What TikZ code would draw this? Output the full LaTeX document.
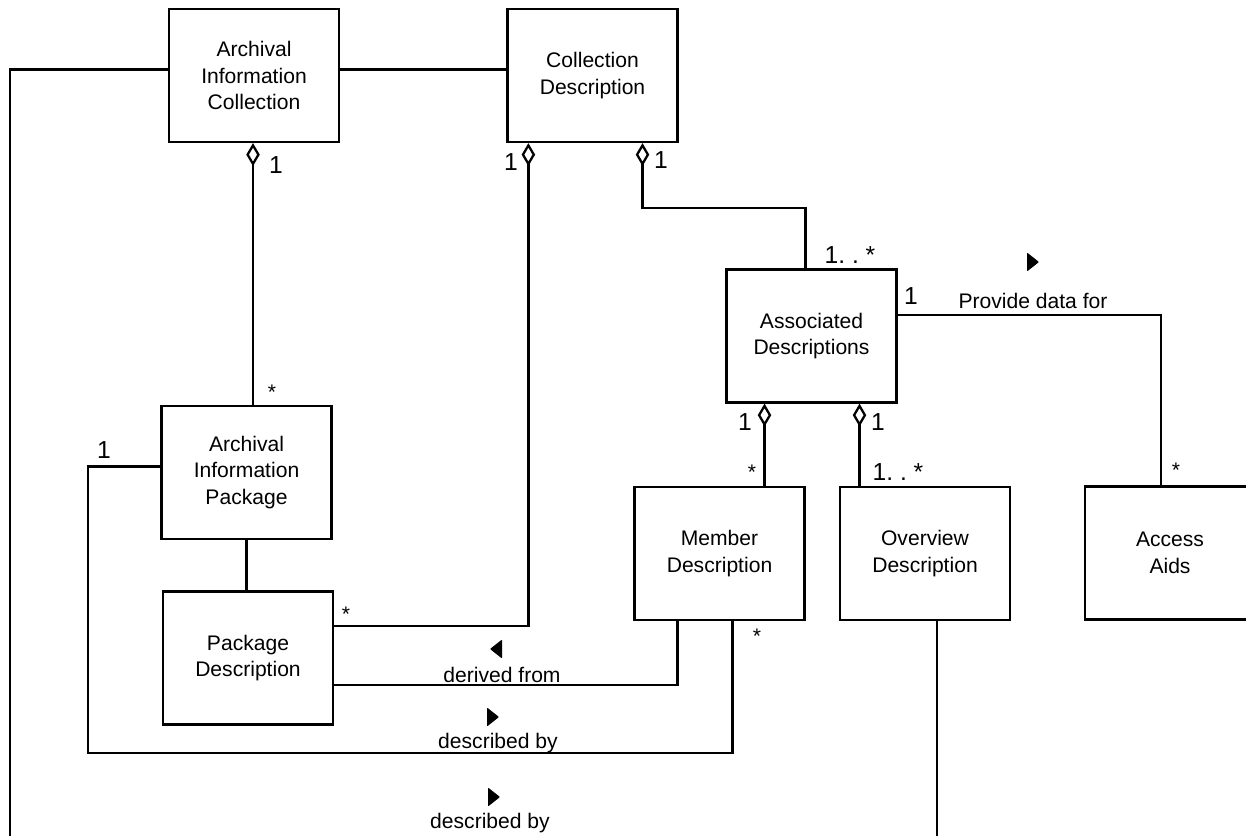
\documentclass[tikz,border=0pt]{standalone}
\usepackage{fontspec}
\setmainfont{Liberation Sans}
\usetikzlibrary{arrows.meta,calc}

\tikzset{
  cls/.style={draw, line width=1.3pt, minimum width=3.4cm, minimum height=2.66cm,
    align=center, inner sep=2pt, font=\fontsize{12}{15}\selectfont},
  assoc/.style={line width=1.3pt},
  agg/.style={assoc, {Diamond[open, length=0.46cm, width=0.27cm, line width=1.3pt]}-},
  mult/.style={inner sep=0pt, font=\fontsize{14}{16}\selectfont},
  star/.style={inner sep=0pt, font=\fontsize{12}{14}\selectfont},
  role/.style={inner sep=0pt, anchor=base, font=\fontsize{12}{14}\selectfont},
  rtri/.pic={\fill[rounded corners=0.5pt] (-6,-9.5) -- (6,0) -- (-6,9.5) -- cycle;},
  ltri/.pic={\fill[rounded corners=0.5pt] (6,-9.5) -- (-6,0) -- (6,9.5) -- cycle;},
}

\begin{document}
\begin{tikzpicture}[x=0.02cm, y=-0.02cm]
	\clip (0,0) rectangle (1246,835);

	% classes
	\node[cls] (aic) at (254,75.5) {Archival\\Information\\Collection};
	\node[cls] (cd) at (592.5,75.5) {Collection\\Description};
	\node[cls] (ad) at (811.5,336) {Associated\\Descriptions};
	\node[cls] (aip) at (246.5,472.5) {Archival\\Information\\Package};
	\node[cls] (pd) at (248,658) {Package\\Description};
	\node[cls] (md) at (719.5,553.5) {Member\\Description};
	\node[cls] (od) at (925,553.5) {Overview\\Description};
	\node[cls] (aa) at (1170,553) {Access\\Aids};

	% bend points and aggregation ends
	\coordinate (farleft) at (10,850);
	\coordinate (mdbend) at (88,753);
	\coordinate (aicagg) at ($(aic.south)+(-1,0)$);
	\coordinate (cdagg) at ($(cd.south west)+(22,0)$);
	\coordinate (cdagg2) at ($(cd.south)+(50,0)$);
	\coordinate (admem) at ($(ad.south)+(-47,0)$);
	\coordinate (adover) at ($(ad.south)+(48,0)$);

	% associations
	\draw[assoc] ($(aic.east)+(0,-6)$) -- ($(cd.west)+(0,-6)$);
	\draw[assoc] ($(aic.west)+(0,-6)$) -| (farleft) -| ($(od.south)+(12,0)$);
	\draw[agg] (aicagg) -- (aicagg |- aip.north);
	\draw[agg] (cdagg) |- ($(pd.east)+(0,-32)$);
	\draw[agg] (cdagg2) -- ++(0,65) -| ($(ad.north)+(-6,0)$);
	\draw[assoc] ($(ad.east)+(0,-21)$) -| ($(aa.north)+(-9,0)$);
	\draw[agg] (admem) -- (admem |- md.north);
	\draw[agg] (adover) -- (adover |- od.north);
	\draw[assoc] (aip.south) -- (aip.south |- pd.north);
	\draw[assoc] ($(pd.east)+(0,27)$) -| ($(md.south)+(-42,0)$);
	\draw[assoc] ($(md.south)+(13,0)$) |- (mdbend) |- ($(aip.west)+(0,-6)$);

	% multiplicities
	\node[mult] (m1) at (276,165) {1};
	\node[star] (m2) at (272,392) {*};
	\node[mult] (m3) at (511,162) {1};
	\node[mult] (m4) at (661,160) {1};
	\node[mult] (m5) at (850,255) {1.~.~*};
	\node[mult] (m6) at (911,296) {1};
	\node[star] (m7) at (1176,470) {*};
	\node[mult] (m8) at (745,422) {1};
	\node[mult] (m9) at (878,422) {1};
	\node[star] (m10) at (752,472) {*};
	\node[mult] (m11) at (898,472) {1.~.~*};
	\node[star] (m12) at (346,614) {*};
	\node[star] (m13) at (757,636) {*};
	\node[mult] (m14) at (104,450) {1};

	% role names
	\node[role] (provide) at (1033,308) {Provide data for};
	\pic at (1033,262) {rtri};
	\node[role] (derived) at (502,682) {derived from};
	\pic at (496,649) {ltri};
	\node[role] (descinner) at (498,748) {described by};
	\pic at (493,717) {rtri};
	\node[role] (descouter) at (490,828) {described by};
	\pic at (494,797) {rtri};
\end{tikzpicture}
\end{document}
